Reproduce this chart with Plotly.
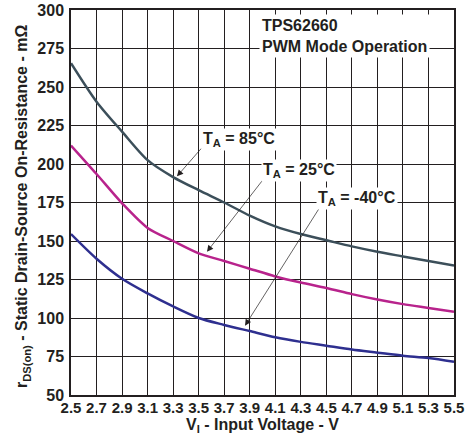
import plotly.graph_objects as go

# input voltage (V)
vin = [2.5, 2.7, 2.9, 3.1, 3.3, 3.5, 3.7, 3.9, 4.1, 4.3, 4.5, 4.7, 4.9, 5.1, 5.3, 5.5]

# on-resistance (mOhm) per ambient temperature
r_85c = [265.5, 240.5, 221, 202.5, 191.5, 183, 175, 166.5, 159.5, 154.5, 150.5, 146.5, 143, 140, 137, 134]
r_25c = [212, 193.5, 174.5, 158.5, 150, 142, 137, 132, 127, 123, 119.5, 115.5, 112, 109, 106.5, 104]
r_m40c = [154.5, 138.5, 125.5, 116, 107.5, 100, 95.5, 91.5, 87.5, 84.5, 82, 79.5, 77.5, 75.5, 74, 71.5]

x_ticks = [2.5, 2.7, 2.9, 3.1, 3.3, 3.5, 3.7, 3.9, 4.1, 4.3, 4.5, 4.7, 4.9, 5.1, 5.3, 5.5]
y_ticks = [50, 75, 100, 125, 150, 175, 200, 225, 250, 275, 300]

FONT = "Arial, Liberation Sans, sans-serif"
TXT = "#231f20"

fig = go.Figure()
for ys, col in [(r_85c, "#3c4f5a"), (r_25c, "#b8238c"), (r_m40c, "#2e2f8f")]:
    fig.add_trace(go.Scatter(x=vin, y=ys, mode="lines",
                             line=dict(color=col, width=2.5, shape="spline", smoothing=0.8),
                             showlegend=False, hoverinfo="skip"))

# arrows (head on the curve, tail at the label)
arrows = [
    (3.33, 192, 3.53, 211),
    (3.565, 143, 4.02, 191.5),
    (3.863, 95, 4.45, 172),
]
for hx, hy, tx, ty in arrows:
    fig.add_annotation(x=hx, y=hy, ax=tx, ay=ty, xref="x", yref="y",
                       axref="x", ayref="y", text="", showarrow=True,
                       arrowhead=2, arrowsize=1.8, arrowwidth=0.7,
                       arrowcolor="#231f20")

labels = [
    (3.52, 216, "T<sub>A</sub> = 85°C"),
    (3.99, 196, "T<sub>A</sub> = 25°C"),
    (4.42, 177.5, "T<sub>A</sub> = -40°C"),
]
for x, y, t in labels:
    fig.add_annotation(x=x, y=y, xref="x", yref="y", text="<b>" + t + "</b>",
                       xanchor="left", showarrow=False, bgcolor="white", borderpad=1,
                       font=dict(family=FONT, size=16, color=TXT))

fig.add_annotation(x=3.97, y=283, xref="x", yref="y",
                   text="<b>TPS62660<br>PWM Mode Operation</b>", xanchor="left",
                   showarrow=False, align="left", bgcolor="white", borderpad=2,
                   font=dict(family=FONT, size=16, color=TXT))

# y axis title, placed by hand
fig.add_annotation(x=-0.125, y=0.491, xref="paper", yref="paper", textangle=-90,
                   text="<b>r<sub>DS(on)</sub> - Static Drain-Source On-Resistance - mΩ</b>",
                   showarrow=False, xanchor="center", yanchor="middle",
                   font=dict(family=FONT, size=16, color=TXT))

axis_common = dict(showgrid=True, gridcolor="#231f20", gridwidth=1,
                   showline=True, linecolor="#231f20", linewidth=1.5, mirror=True,
                   ticks="", zeroline=False, automargin=False)

fig.update_xaxes(range=[2.5, 5.5], tickvals=x_ticks,
                 ticktext=["<b>%.1f</b>" % v for v in x_ticks],
                 tickfont=dict(family=FONT, size=15, color=TXT), ticklabelstandoff=-2,
                 title=dict(text="<b>V<sub>I</sub> - Input Voltage - V</b>",
                            font=dict(family=FONT, size=16, color=TXT), standoff=4),
                 **axis_common)
fig.update_yaxes(range=[50, 300], tickvals=y_ticks,
                 ticktext=["<b>%d</b>" % v for v in y_ticks],
                 tickfont=dict(family=FONT, size=16, color=TXT), ticklabelstandoff=2,
                 **axis_common)

fig.update_layout(width=471, height=443, margin=dict(l=71, r=17, t=10, b=48),
                  plot_bgcolor="white", paper_bgcolor="white",
                  font=dict(family=FONT, color=TXT))

# drop the browser's default page margin so the figure sits at the corner
fig.write_html("out.html", config={"displayModeBar": False},
               post_script="document.body.style.margin='0';")
